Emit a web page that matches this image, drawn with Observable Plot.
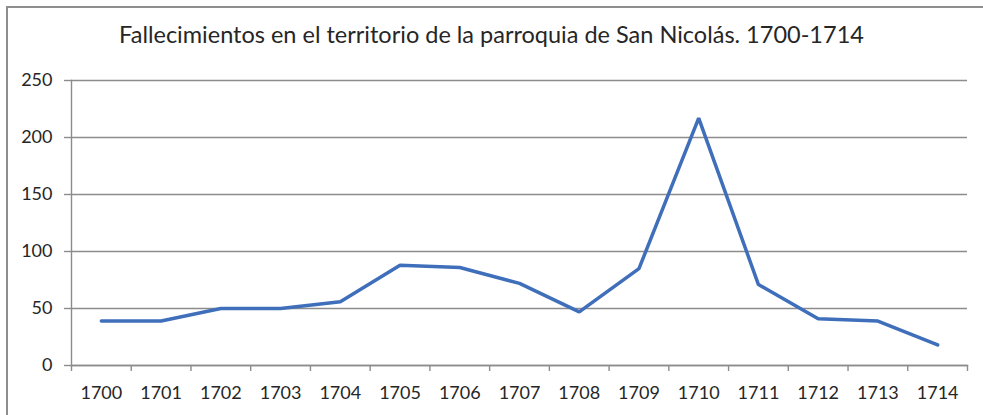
<!DOCTYPE html>
<html>
<head>
<meta charset="utf-8">
<script src="https://cdn.jsdelivr.net/npm/d3@7"></script>
<script src="https://cdn.jsdelivr.net/npm/@observablehq/plot@0.6"></script>
<style>
  html, body { margin: 0; padding: 0; background: #fff; overflow: hidden; }
  #wrap { position: relative; width: 983px; height: 415px; }
  #border { position: absolute; left: 6px; top: 6px; width: 1100px; height: 600px; border: 2px solid #8e8e8e; box-sizing: border-box; }
  #title { position: absolute; left: 0; width: 983px; top: 23px; text-align: center; font-family: Lato, sans-serif; font-size: 23.5px; line-height: 23.5px; color: #262626; white-space: nowrap; }
  #chart { position: absolute; left: 0; top: 0; }
</style>
</head>
<body>
<div id="wrap">
  <div id="border"></div>
  <div id="chart"></div>
  <div id="title">Fallecimientos en el territorio de la parroquia de San Nicolás. 1700-1714</div>
</div>
<script>
const years = [1700, 1701, 1702, 1703, 1704, 1705, 1706, 1707, 1708, 1709, 1710, 1711, 1712, 1713, 1714];
const deaths = [39, 39, 50, 50, 56, 88, 86, 72, 47, 85, 217, 71, 41, 39, 18];
const yTicks = [0, 50, 100, 150, 200, 250];

const boundaries = years.map(y => y - 0.5).concat([years[years.length - 1] + 0.5]);
const data = years.map((y, i) => ({year: y, value: deaths[i]}));
const gray = "#8c8c8c";

const chart = Plot.plot({
  width: 983,
  height: 415,
  marginLeft: 71,
  marginRight: 16,
  marginTop: 80,
  marginBottom: 50,
  style: {fontFamily: "Lato, sans-serif", fontSize: "18px", color: "#262626", background: "transparent", overflow: "visible"},
  x: {domain: [boundaries[0], boundaries[boundaries.length - 1]]},
  y: {domain: [0, 250]},
  marks: [
    Plot.gridY(yTicks, {stroke: gray, strokeOpacity: 1, strokeWidth: 1.4}),
    Plot.axisY(yTicks, {tickSize: 7, tickPadding: 12, stroke: gray, strokeOpacity: 1, strokeWidth: 1.4, fill: "#262626", label: null}),
    Plot.frame({anchor: "left", stroke: gray, strokeWidth: 1.4}),
    Plot.frame({anchor: "bottom", stroke: gray, strokeWidth: 1.4}),
    Plot.axisX(boundaries, {tickSize: 6, stroke: gray, strokeOpacity: 1, strokeWidth: 1.4, tickFormat: () => "", label: null}),
    Plot.axisX(years, {tickSize: 0, tickPadding: 21, tickFormat: d => String(d), fill: "#262626", label: null}),
    Plot.lineY(data, {x: "year", y: "value", stroke: "#3f6fba", strokeWidth: 3.5, strokeLinejoin: "miter"})
  ]
});
document.getElementById("chart").appendChild(chart);
</script>
</body>
</html>
